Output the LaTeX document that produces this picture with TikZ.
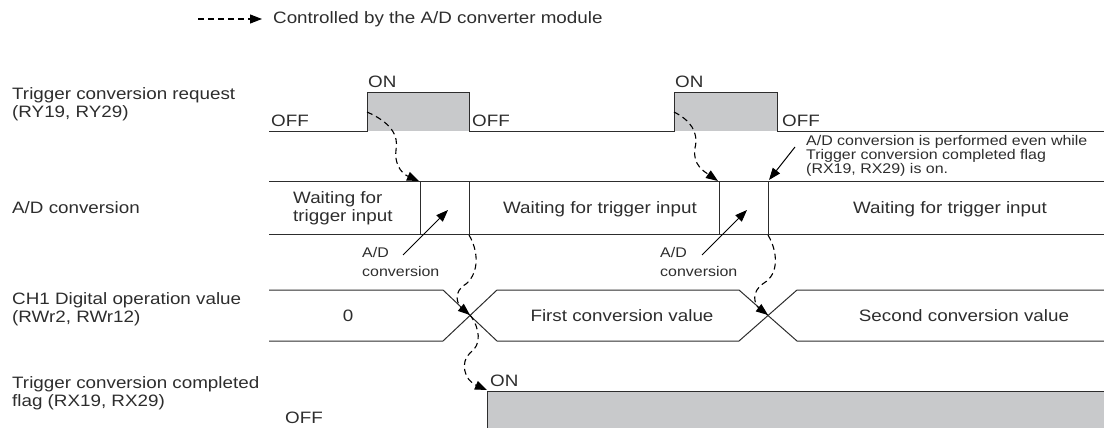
\documentclass[tikz,border=0pt]{standalone}
\usepackage{fontspec}
\setmainfont{Liberation Sans}[FakeStretch=1.14]
\usepackage{xcolor}
\usetikzlibrary{arrows.meta}

\definecolor{sigline}{RGB}{45,45,45}
\definecolor{sigfill}{RGB}{200,201,203}
\definecolor{txtgray}{RGB}{45,45,45}

\begin{document}
\begin{tikzpicture}[
  x=1pt, y=-1pt,
  lbl/.style={inner sep=0pt, text=txtgray, font={\fontsize{16.5}{18.5}\selectfont}, align=left},
  note/.style={inner sep=0pt, text=txtgray, font={\fontsize{14}{12.5}\selectfont}, align=left},
  signal/.style={draw=sigline, line width=1pt},
  ctrl/.style={draw=black, line width=1.1pt, dash pattern=on 6pt off 4pt, -{Triangle[length=12pt,width=9pt]}},
  pointer/.style={draw=black, line width=1pt, -{Triangle[length=12pt,width=9pt]}}
]
  \useasboundingbox (0,0) rectangle (1104,428);

  % Legend
  \coordinate (legA) at (198,19);
  \coordinate (legB) at (262,19);
  \draw[ctrl] (legA) -- (legB);
  \node[lbl, anchor=west] (legtxt) at (273,19) {Controlled by the A/D converter module};

  % Signal names
  \node[lbl, anchor=west] (nreq) at (12,104) {Trigger conversion request\\(RY19, RY29)};
  \node[lbl, anchor=west] (nad) at (12,208) {A/D conversion};
  \node[lbl, anchor=west] (nval) at (12,309) {CH1 Digital operation value\\(RWr2, RWr12)};
  \node[lbl, anchor=west] (nflag) at (12,393) {Trigger conversion completed\\flag (RX19, RX29)};

  % Row 1: trigger conversion request
  \fill[sigfill] (367,93) rectangle (469,131);
  \fill[sigfill] (674,93) rectangle (777,131);
  \draw[signal] (269,131) -- (367,131) -- (367,93) -- (469,93) -- (469,131)
    -- (674,131) -- (674,93) -- (777,93) -- (777,131) -- (1104,131);
  \node[lbl, anchor=base west] (off1) at (271,126) {OFF};
  \node[lbl, anchor=base west] (on1) at (368,88) {ON};
  \node[lbl, anchor=base west] (off2) at (472,126) {OFF};
  \node[lbl, anchor=base west] (on2) at (675,88) {ON};
  \node[lbl, anchor=base west] (off3) at (782,126) {OFF};

  % Row 2: A/D conversion
  \draw[signal] (269,181) -- (1104,181);
  \draw[signal] (269,234) -- (1104,234);
  \draw[signal] (420,181) -- (420,234);
  \draw[signal] (469,181) -- (469,234);
  \draw[signal] (719,181) -- (719,234);
  \draw[signal] (768,181) -- (768,234);
  \node[lbl, anchor=west] (wait1) at (293,208) {Waiting for\\trigger input};
  \node[lbl] (wait2) at (600,209) {Waiting for trigger input};
  \node[lbl] (wait3) at (950,209) {Waiting for trigger input};

  % Row 3: digital operation value
  \draw[signal] (269,290) -- (443,290) -- (497,341) -- (739,341) -- (797,290) -- (1104,290);
  \draw[signal] (269,341) -- (443,341) -- (497,290) -- (739,290) -- (797,341) -- (1104,341);
  \node[lbl] (v0) at (348,316) {0};
  \node[lbl] (v1) at (622,316) {First conversion value};
  \node[lbl] (v2) at (964,316) {Second conversion value};

  % Row 4: completed flag
  \fill[sigfill] (487,391) rectangle (1104,432);
  \draw[signal] (487,432) -- (487,391) -- (1104,391);
  \node[lbl, anchor=base west] (on3) at (490,386) {ON};
  \node[lbl, anchor=base west] (off4) at (285,423) {OFF};

  % A/D conversion pointers
  \node[note, anchor=north west, font={\fontsize{14}{19}\selectfont}] (conv1) at (362,247) {A/D\\conversion};
  \node[note, anchor=north west, font={\fontsize{14}{19}\selectfont}] (conv2) at (660,247) {A/D\\conversion};
  \coordinate (c1a) at (403,255);
  \coordinate (c1b) at (448,210);
  \coordinate (c2a) at (702,255);
  \coordinate (c2b) at (747,210);
  \draw[pointer] (c1a) -- (c1b);
  \draw[pointer] (c2a) -- (c2b);

  % Note on second conversion
  \node[note, anchor=north west] (remark) at (806,135)
    {A/D conversion is performed even while\\Trigger conversion completed flag\\(RX19, RX29) is on.};
  \coordinate (rma) at (795,147);
  \coordinate (rmb) at (769,180);
  \draw[pointer] (rma) -- (rmb);

  % Controlled by the module (dashed)
  \coordinate (t1) at (367,112);
  \coordinate (a1) at (419,181);
  \coordinate (t2) at (674,112);
  \coordinate (a2) at (718,181);
  \coordinate (e1) at (469,235);
  \coordinate (x1) at (470,315);
  \coordinate (e2) at (768,235);
  \coordinate (x2) at (768,315);
  \coordinate (f1) at (487,390);
  \draw[ctrl] (t1) .. controls (390,122) and (399,135) .. (396,150)
    .. controls (394,168) and (405,175) .. (a1);
  \draw[ctrl] (t2) .. controls (690,120) and (699,132) .. (695,148)
    .. controls (692,165) and (705,172) .. (a2);
  \draw[ctrl] (e1) .. controls (478,250) and (480,272) .. (466,284)
    .. controls (452,292) and (458,305) .. (x1);
  \draw[ctrl] (e2) .. controls (778,252) and (779,274) .. (764,283)
    .. controls (750,292) and (755,305) .. (x2);
  \draw[ctrl] (x1) .. controls (480,328) and (482,345) .. (470,353)
    .. controls (460,362) and (464,380) .. (f1);
\end{tikzpicture}
\end{document}
